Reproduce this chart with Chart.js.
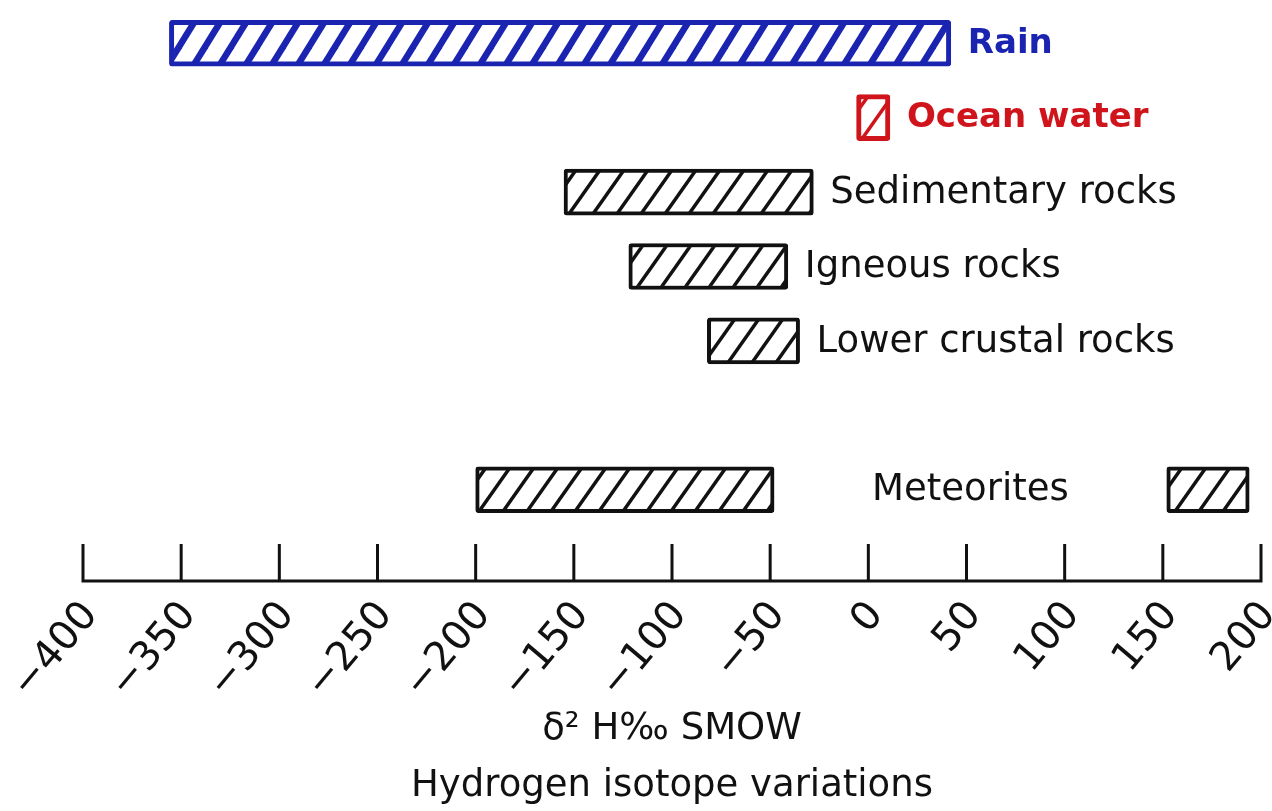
<!DOCTYPE html>
<html>
<head>
<meta charset="utf-8">
<script src="https://cdn.jsdelivr.net/npm/chart.js@4.4.1/dist/chart.umd.min.js"></script>
<style>
  html, body { margin: 0; padding: 0; background: #fff; }
  #wrap { width: 1272px; height: 811px; }
</style>
</head>
<body>
<div id="wrap"><canvas id="chart"></canvas></div>
<script>
// Ranges in delta 2H per mil SMOW.
const categories = ['Rain', 'Ocean water', 'Sedimentary rocks', 'Igneous rocks', 'Lower crustal rocks', '', 'Meteorites'];
const rangeLow   = [-356, -6, -155, -122, -82, null, -200];
const rangeHigh  = [42, 11, -28, -41, -35, null, -48];
const secondLow  = [null, null, null, null, null, null, 152];
const secondHigh = [null, null, null, null, null, null, 194];
const axisMin = -400, axisMax = 200, axisStep = 50;
const axisTitle = ['δ² H‰ SMOW', 'Hydrogen isotope variations'];

// styles per row
const rowColors = ['#1a24b0', '#d0141c', '#111', '#111', '#111', '#111', '#111'];
const rowBold   = [true, true, false, false, false, false, false];

const INK = '#111';
const FONT = '"DejaVu Sans", sans-serif';

function hatch(color, lineWidth, w, h) {
  const c = document.createElement('canvas');
  c.width = w;
  c.height = h;
  const g = c.getContext('2d');
  g.fillStyle = '#fff';
  g.fillRect(0, 0, w, h);
  g.strokeStyle = color;
  g.lineWidth = lineWidth;
  for (const dx of [-w, 0, w]) {
    g.beginPath();
    g.moveTo(dx - w * 0.5, h * 1.5);
    g.lineTo(dx + w * 1.5, -h * 0.5);
    g.stroke();
  }
  return g.createPattern(c, 'repeat');
}

const fills = rowColors.map((col, i) => i === 0 ? hatch(col, 6.5, 26, 42) : hatch(col, 3.5, 24, 34));

const rangeData = categories.map((c, i) => rangeLow[i] == null ? null : [rangeLow[i], rangeHigh[i]]);
const secondData = categories.map((c, i) => secondLow[i] == null ? null : [secondLow[i], secondHigh[i]]);

// axis line with tick marks pointing up
const axisLine = {
  id: 'axisLine',
  afterDraw(chart) {
    const {ctx, chartArea, scales: {x}} = chart;
    const y0 = chartArea.bottom + 54;
    ctx.save();
    ctx.strokeStyle = INK;
    ctx.lineWidth = 3;
    ctx.beginPath();
    ctx.moveTo(x.getPixelForValue(axisMin) - 1.5, y0);
    ctx.lineTo(x.getPixelForValue(axisMax) + 1.5, y0);
    x.ticks.forEach(t => {
      const px = x.getPixelForValue(t.value);
      ctx.moveTo(px, y0);
      ctx.lineTo(px, y0 - 37);
    });
    ctx.stroke();
    ctx.restore();
  }
};

// names next to the bars
const rowLabels = {
  id: 'rowLabels',
  afterDatasetsDraw(chart) {
    const {ctx, scales: {x, y}} = chart;
    ctx.save();
    ctx.textBaseline = 'middle';
    categories.forEach((name, i) => {
      if (!name) return;
      const cy = y.getPixelForValue(i) + 1;
      ctx.font = (rowBold[i] ? 'bold 34px ' : '37px ') + FONT;
      ctx.fillStyle = rowColors[i];
      if (secondLow[i] != null) {
        ctx.textAlign = 'center';
        ctx.fillText(name, (x.getPixelForValue(rangeHigh[i]) + x.getPixelForValue(secondLow[i])) / 2, cy);
      } else {
        ctx.textAlign = 'left';
        ctx.fillText(name, x.getPixelForValue(rangeHigh[i]) + 17, cy);
      }
    });
    ctx.restore();
  }
};

const barStyle = {
  borderColor: rowColors,
  backgroundColor: fills,
  borderWidth: [5, 5, 4, 4, 4, 4, 4],
  borderRadius: 3,
  borderSkipped: false,
  barThickness: 46,
  grouped: false
};

new Chart(document.getElementById('chart'), {
  type: 'bar',
  data: {
    labels: categories,
    datasets: [
      Object.assign({label: 'range', data: rangeData}, barStyle),
      Object.assign({label: 'second range', data: secondData}, barStyle)
    ]
  },
  options: {
    indexAxis: 'y',
    responsive: true,
    maintainAspectRatio: false,
    animation: false,
    layout: { padding: { left: 83, right: 11, top: 6, bottom: 0 } },
    plugins: {
      legend: { display: false },
      tooltip: { enabled: false }
    },
    scales: {
      x: {
        type: 'linear',
        min: axisMin,
        max: axisMax,
        grid: { display: false, drawTicks: false },
        border: { display: false },
        ticks: {
          stepSize: axisStep,
          autoSkip: false,
          minRotation: 50,
          maxRotation: 50,
          padding: 66,
          labelOffset: 8,
          color: INK,
          font: { family: FONT, size: 40 },
          callback: v => String(v).replace('-', '\u2212')
        },
        title: {
          display: true,
          text: axisTitle,
          color: INK,
          font: { family: FONT, size: 37, lineHeight: 1.55 },
          padding: { top: 0, bottom: -4 }
        },
        afterFit(s) {
          s.height = 284;
          s.paddingLeft = 0;
          s.paddingRight = 0;
        }
      },
      y: {
        display: false,
        offset: true
      }
    }
  },
  plugins: [axisLine, rowLabels]
});
</script>
</body>
</html>
